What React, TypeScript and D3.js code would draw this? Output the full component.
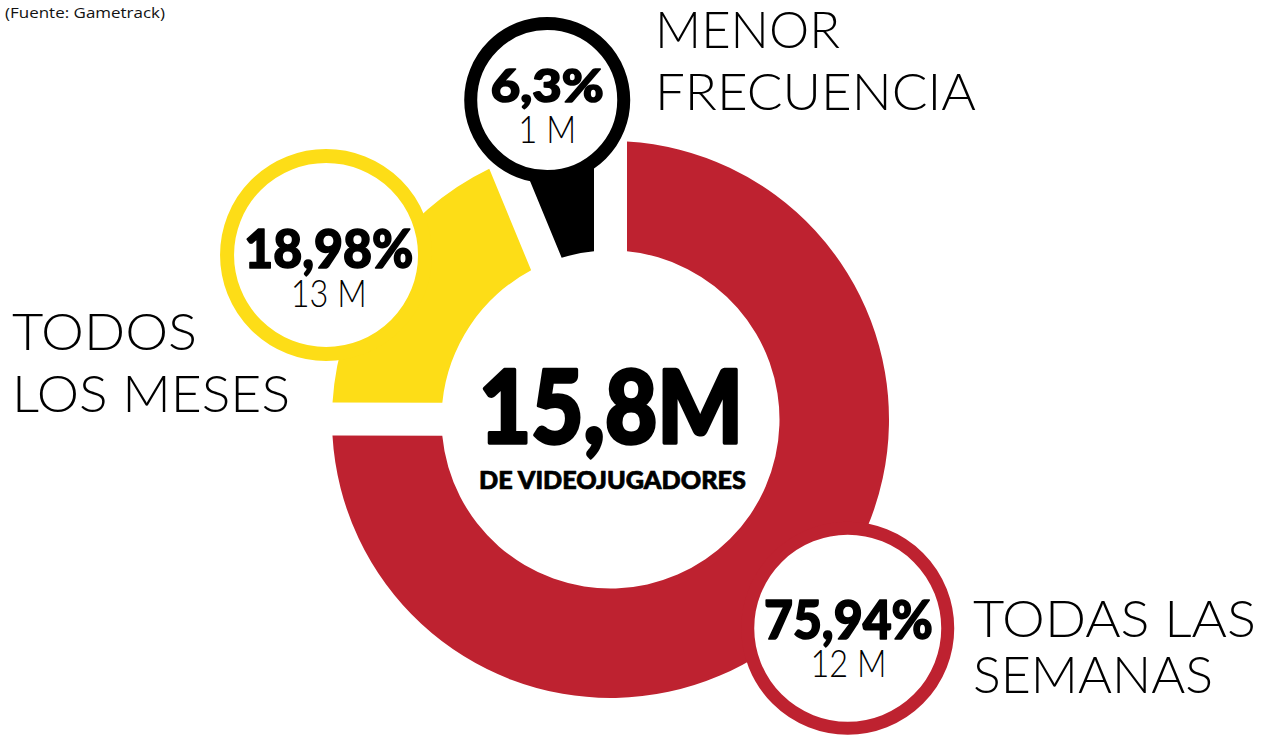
import React from "react";
import * as d3 from "d3";

// data
const categories = [["TODAS LAS", "SEMANAS"], ["TODOS", "LOS MESES"], ["MENOR", "FRECUENCIA"]];
const shares = [75.94, 18.98, 6.3];
const shareLabels = ["75,94%", "18,98%", "6,3%"];
const playerLabels = ["12 M", "13 M", "1 M"];
const totalLabel = "15,8M";
const totalCaption = "DE VIDEOJUGADORES";
const sourceNote = "(Fuente: Gametrack)";

const colors = ["#be2230", "#fddd17", "#000000"];

const W = 1273;
const H = 736;
const cx = 610.5;
const cy = 419.5;
const outerR = 278.5;
const innerR = 169;
const gap = 16.5; // half gap between slices, px

// callout bubbles sit on the slice bisector
const bubbles = [
  { dist: 316, nudge: -3.7, r: 100, sw: 13, dx: 0.7, pct: 54, pctW: 169, pctY: 10.3, val: 38, valW: 76, valY: 48.7 },
  { dist: 328.6, nudge: -3.8, r: 99, sw: 14, dx: 2.7, pct: 54, pctW: 169, pctY: 13.3, val: 38, valW: 76, valY: 51.7 },
  { dist: 325.7, nudge: 0, r: 76.5, sw: 13, dx: 0, pct: 46, pctW: 113, pctY: 1.7, val: 37, valW: 58, valY: 43.3 },
];

// category names next to the bubbles
const labelPos = [
  { x: 973, y: 637.3, step: 55.4, w: [283, 240] },
  { x: 12, y: 350, step: 61.7, w: [185, 278] },
  { x: 655, y: 48.3, step: 61.7, w: [185, 321] },
];

const font = "Lato, 'Noto Sans', sans-serif";

export default function App() {
  const pie = d3.pie<number>().sort(null).value((d) => d);
  const arcs = pie(shares);

  const arc = d3
    .arc<d3.PieArcDatum<number>>()
    .innerRadius(innerR)
    .outerRadius((d) => (d.index === 2 ? 255 : outerR))
    .padRadius(100)
    .padAngle(2 * Math.asin(gap / 100));

  return (
    <svg width={W} height={H} style={{ position: "absolute", left: 0, top: 0 }}>
      <rect width={W} height={H} fill="#fff" />
      <text x={5} y={18} fontFamily="'Open Sans', sans-serif" fontSize={14} textLength={160} lengthAdjust="spacingAndGlyphs" fill="#111">
        {sourceNote}
      </text>

      <g transform={`translate(${cx},${cy})`}>
        {arcs.map((a) => (
          <path key={a.index} d={arc(a) || ""} fill={colors[a.index]} />
        ))}
      </g>

      {arcs.map((a) => {
        const b = bubbles[a.index];
        const ang = (a.startAngle + a.endAngle) / 2 + (b.nudge * Math.PI) / 180;
        const bx = cx + b.dist * Math.sin(ang);
        const by = cy - b.dist * Math.cos(ang);
        return (
          <g key={a.index}>
            <circle cx={bx} cy={by} r={b.r} fill="#fff" stroke={colors[a.index]} strokeWidth={b.sw} />
            <text x={bx + b.dx} y={by + b.pctY} textAnchor="middle" fontFamily={font} fontWeight={900} fontSize={b.pct} textLength={b.pctW} lengthAdjust="spacingAndGlyphs" stroke="#000" strokeWidth={1.6} strokeLinejoin="round">
              {shareLabels[a.index]}
            </text>
            <text x={bx + b.dx} y={by + b.valY} textAnchor="middle" fontFamily={font} fontWeight={300} fontSize={b.val} textLength={b.valW} lengthAdjust="spacingAndGlyphs" fill="#000">
              {playerLabels[a.index]}
            </text>
          </g>
        );
      })}

      {categories.map((lines, i) => (
        <g key={i}>
          {lines.map((t, j) => (
            <text key={j} x={labelPos[i].x} y={labelPos[i].y + j * labelPos[i].step} fontFamily={font} fontWeight={300} fontSize={52} textLength={labelPos[i].w[j]} lengthAdjust="spacingAndGlyphs" fill="#000">
              {t}
            </text>
          ))}
        </g>
      ))}

      <text x={611} y={443.3} textAnchor="middle" fontFamily={font} fontWeight={900} fontSize={101} textLength={264} lengthAdjust="spacingAndGlyphs" stroke="#000" strokeWidth={3.5} strokeLinejoin="round">
        {totalLabel}
      </text>
      <text x={612.5} y={489.3} textAnchor="middle" fontFamily={font} fontWeight={900} fontSize={24.7} textLength={267} lengthAdjust="spacingAndGlyphs" stroke="#000" strokeWidth={0.7} strokeLinejoin="round">
        {totalCaption}
      </text>
    </svg>
  );
}
